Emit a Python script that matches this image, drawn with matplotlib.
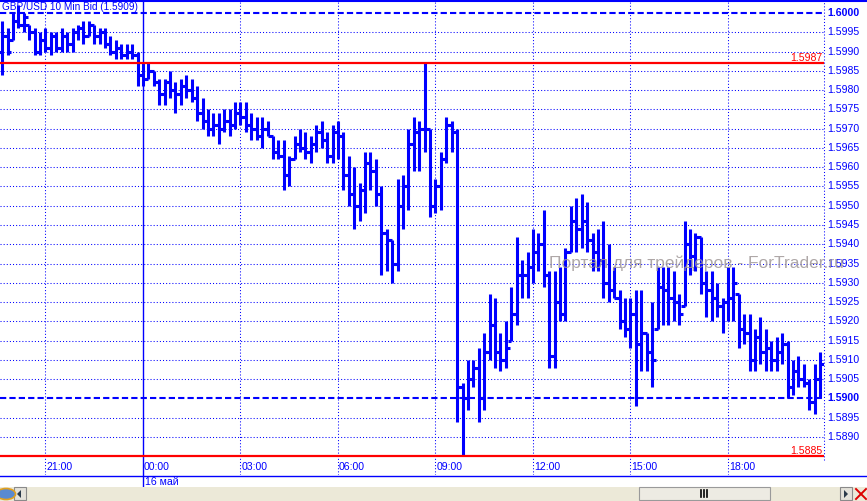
import datetime as dt
import matplotlib
matplotlib.use("Agg")
import matplotlib.pyplot as plt
import matplotlib.dates as mdates
from matplotlib.lines import Line2D
from matplotlib.patches import Rectangle, Polygon, Circle
import pandas as pd

plt.rcParams["font.family"] = ["Liberation Sans", "DejaVu Sans"]

# GBP/USD 10 min bars, 15 May 19:40 .. 16 May 20:50
times = pd.date_range("2012-05-15 19:40", periods=152, freq="10min")

opens = [
    1.5990, 1.5994, 1.5993, 1.5998, 1.5997, 1.5997, 1.5995, 1.5990, 1.5993, 1.5991,
    1.5994, 1.5991, 1.5994, 1.5992, 1.5995, 1.5996, 1.5994, 1.5997, 1.5994, 1.5995,
    1.5992, 1.5990, 1.5991, 1.5989, 1.5990, 1.5989, 1.5984, 1.5983, 1.5985, 1.5982,
    1.5979, 1.5982, 1.5980, 1.5979, 1.5981, 1.5980, 1.5978, 1.5974, 1.5972, 1.5970,
    1.5971, 1.5970, 1.5972, 1.5971, 1.5974, 1.5973, 1.5971, 1.5970, 1.5968, 1.5970,
    1.5968, 1.5964, 1.5963, 1.5958, 1.5962, 1.5966, 1.5965, 1.5964, 1.5966, 1.5969,
    1.5967, 1.5963, 1.5969, 1.5968, 1.5958, 1.5953, 1.5950, 1.5954, 1.5961, 1.5959,
    1.5953, 1.5943, 1.5941, 1.5935, 1.5950, 1.5955, 1.5966, 1.5969, 1.5970, 1.5970,
    1.5950, 1.5955, 1.5962, 1.5971, 1.5969, 1.5903, 1.5900, 1.5905, 1.5908, 1.5900,
    1.5912, 1.5919, 1.5912, 1.5910, 1.5915, 1.5922, 1.5932, 1.5932, 1.5934, 1.5938,
    1.5940, 1.5932, 1.5911, 1.5925, 1.5922, 1.5938, 1.5946, 1.5944, 1.5946, 1.5941,
    1.5938, 1.5936, 1.5930, 1.5928, 1.5926, 1.5920, 1.5918, 1.5922, 1.5914, 1.5917,
    1.5912, 1.5918, 1.5929, 1.5928, 1.5926, 1.5925, 1.5924, 1.5940, 1.5937, 1.5942,
    1.5930, 1.5928, 1.5926, 1.5924, 1.5925, 1.5926, 1.5927, 1.5918, 1.5917, 1.5910,
    1.5916, 1.5912, 1.5913, 1.5910, 1.5912, 1.5914, 1.5903, 1.5907, 1.5905, 1.5904,
    1.5899, 1.5905,
]
highs = [
    1.5998, 1.5996, 1.6000, 1.6002, 1.6000, 1.5997, 1.5996, 1.5995, 1.5996, 1.5995,
    1.5995, 1.5996, 1.5995, 1.5996, 1.5997, 1.5998, 1.5998, 1.5997, 1.5996, 1.5996,
    1.5994, 1.5993, 1.5992, 1.5992, 1.5992, 1.5990, 1.5987, 1.5987, 1.5985, 1.5983,
    1.5983, 1.5985, 1.5982, 1.5983, 1.5984, 1.5983, 1.5981, 1.5978, 1.5975, 1.5974,
    1.5974, 1.5975, 1.5975, 1.5977, 1.5977, 1.5977, 1.5974, 1.5973, 1.5973, 1.5972,
    1.5968, 1.5967, 1.5967, 1.5963, 1.5968, 1.5970, 1.5969, 1.5968, 1.5971, 1.5972,
    1.5969, 1.5971, 1.5972, 1.5969, 1.5963, 1.5960, 1.5956, 1.5964, 1.5964, 1.5962,
    1.5955, 1.5944, 1.5941, 1.5957, 1.5958, 1.5970, 1.5973, 1.5972, 1.5987, 1.5970,
    1.5957, 1.5964, 1.5973, 1.5972, 1.5970, 1.5904, 1.5910, 1.5910, 1.5913, 1.5917,
    1.5927, 1.5926, 1.5917, 1.5920, 1.5929, 1.5942, 1.5936, 1.5938, 1.5944, 1.5943,
    1.5949, 1.5933, 1.5933, 1.5934, 1.5939, 1.5950, 1.5952, 1.5953, 1.5951, 1.5943,
    1.5944, 1.5946, 1.5940, 1.5934, 1.5928, 1.5926, 1.5926, 1.5928, 1.5928, 1.5917,
    1.5925, 1.5934, 1.5934, 1.5934, 1.5933, 1.5927, 1.5946, 1.5944, 1.5943, 1.5942,
    1.5933, 1.5933, 1.5930, 1.5926, 1.5934, 1.5934, 1.5927, 1.5922, 1.5922, 1.5918,
    1.5921, 1.5918, 1.5915, 1.5916, 1.5917, 1.5915, 1.5910, 1.5911, 1.5909, 1.5905,
    1.5909, 1.5912,
]
lows = [
    1.5984, 1.5989, 1.5993, 1.5996, 1.5995, 1.5993, 1.5989, 1.5989, 1.5990, 1.5989,
    1.5990, 1.5990, 1.5990, 1.5990, 1.5993, 1.5992, 1.5994, 1.5992, 1.5992, 1.5991,
    1.5989, 1.5988, 1.5988, 1.5988, 1.5988, 1.5981, 1.5981, 1.5983, 1.5981, 1.5976,
    1.5976, 1.5978, 1.5974, 1.5976, 1.5978, 1.5977, 1.5972, 1.5970, 1.5968, 1.5968,
    1.5966, 1.5969, 1.5968, 1.5970, 1.5971, 1.5969, 1.5967, 1.5967, 1.5965, 1.5968,
    1.5962, 1.5962, 1.5954, 1.5955, 1.5962, 1.5964, 1.5962, 1.5961, 1.5964, 1.5965,
    1.5961, 1.5961, 1.5962, 1.5954, 1.5950, 1.5944, 1.5946, 1.5948, 1.5954, 1.5950,
    1.5932, 1.5933, 1.5930, 1.5933, 1.5944, 1.5949, 1.5959, 1.5959, 1.5964, 1.5947,
    1.5948, 1.5949, 1.5961, 1.5964, 1.5894, 1.5885, 1.5897, 1.5903, 1.5894, 1.5897,
    1.5910, 1.5908, 1.5907, 1.5908, 1.5915, 1.5919, 1.5926, 1.5926, 1.5930, 1.5933,
    1.5929, 1.5908, 1.5908, 1.5920, 1.5920, 1.5938, 1.5938, 1.5939, 1.5938, 1.5933,
    1.5933, 1.5926, 1.5925, 1.5926, 1.5918, 1.5916, 1.5913, 1.5898, 1.5907, 1.5907,
    1.5903, 1.5918, 1.5919, 1.5919, 1.5920, 1.5919, 1.5924, 1.5932, 1.5933, 1.5927,
    1.5921, 1.5920, 1.5921, 1.5917, 1.5920, 1.5920, 1.5913, 1.5914, 1.5907, 1.5907,
    1.5909, 1.5907, 1.5907, 1.5907, 1.5909, 1.5900, 1.5901, 1.5903, 1.5903, 1.5897,
    1.5896, 1.5900,
]
closes = [
    1.5994, 1.5990, 1.5998, 1.5997, 1.5999, 1.5995, 1.5990, 1.5993, 1.5991, 1.5994,
    1.5991, 1.5994, 1.5992, 1.5995, 1.5996, 1.5994, 1.5997, 1.5994, 1.5995, 1.5992,
    1.5990, 1.5991, 1.5989, 1.5990, 1.5989, 1.5984, 1.5983, 1.5985, 1.5982, 1.5979,
    1.5982, 1.5980, 1.5979, 1.5981, 1.5980, 1.5978, 1.5974, 1.5972, 1.5970, 1.5971,
    1.5970, 1.5972, 1.5971, 1.5974, 1.5973, 1.5971, 1.5970, 1.5968, 1.5970, 1.5968,
    1.5964, 1.5963, 1.5958, 1.5962, 1.5966, 1.5965, 1.5964, 1.5966, 1.5969, 1.5967,
    1.5963, 1.5969, 1.5968, 1.5958, 1.5953, 1.5950, 1.5954, 1.5961, 1.5959, 1.5953,
    1.5943, 1.5941, 1.5935, 1.5950, 1.5955, 1.5966, 1.5969, 1.5970, 1.5970, 1.5950,
    1.5955, 1.5962, 1.5971, 1.5969, 1.5903, 1.5900, 1.5905, 1.5908, 1.5900, 1.5912,
    1.5919, 1.5912, 1.5910, 1.5913, 1.5922, 1.5932, 1.5932, 1.5934, 1.5938, 1.5940,
    1.5932, 1.5911, 1.5925, 1.5922, 1.5938, 1.5946, 1.5944, 1.5946, 1.5941, 1.5938,
    1.5936, 1.5930, 1.5928, 1.5926, 1.5920, 1.5918, 1.5922, 1.5914, 1.5917, 1.5912,
    1.5910, 1.5929, 1.5928, 1.5926, 1.5925, 1.5922, 1.5940, 1.5937, 1.5942, 1.5930,
    1.5928, 1.5926, 1.5924, 1.5925, 1.5926, 1.5930, 1.5918, 1.5917, 1.5910, 1.5916,
    1.5912, 1.5913, 1.5910, 1.5912, 1.5914, 1.5903, 1.5907, 1.5905, 1.5904, 1.5899,
    1.5905, 1.5909,
]

price_ticks = [1.5890, 1.5895, 1.5900, 1.5905, 1.5910, 1.5915, 1.5920, 1.5925,
               1.5930, 1.5935, 1.5940, 1.5945, 1.5950, 1.5955, 1.5960, 1.5965,
               1.5970, 1.5975, 1.5980, 1.5985, 1.5990, 1.5995, 1.6000]
bold_levels = [1.6000, 1.5900]
day_high = 1.5987
day_low = 1.5885
time_ticks = ["21:00", "00:00", "03:00", "06:00", "09:00", "12:00", "15:00", "18:00"]
title = "GBP/USD 10 Min Bid (1.5909)"
day_label = "16 май"
watermark = "Портал для трейдеров - ForTrader.ru"

BLUE = "#0000FF"
W, H = 867, 501
FS = 7.6


def fx(px):
    return px / W


def fy(py):
    return 1 - py / H


fig = plt.figure(figsize=(W / 100, H / 100), dpi=100)
fig.patch.set_facecolor("white")
ax = fig.add_axes([0, fy(475), fx(824), 475 / H])
ax.set_facecolor("white")
for s in ax.spines.values():
    s.set_visible(False)
ax.set_xticks([])
ax.set_yticks([])

day0 = dt.datetime(2012, 5, 16)
base = mdates.date2num(day0)
ax.set_xlim(base - 4.4 / 24, base + 20.954 / 24)
ax.set_ylim(1.6000 - 462 / 38540, 1.6000 + 13 / 38540)

dot = (0, (1, 2))
# horizontal grid + price labels
for p in price_ticks:
    if p in bold_levels:
        ax.axhline(p, color=BLUE, lw=1.5, ls=(0, (3, 1.5)), zorder=1)
    else:
        ax.axhline(p, color=BLUE, lw=0.75, ls=dot, zorder=1)
    ax.text(827 / 824, p, f"{p:.4f}", transform=ax.get_yaxis_transform(),
            ha="left", va="center", fontsize=FS, color=BLUE, clip_on=False,
            fontweight="bold" if p in bold_levels else "normal")

# vertical grid + time labels
tick_times = [day0 + dt.timedelta(hours=h) for h in (-3, 0, 3, 6, 9, 12, 15, 18)]
for t, lab in zip(tick_times, time_ticks):
    xt = mdates.date2num(t)
    if lab == "00:00":
        ax.axvline(xt, ymin=-12 / 475, ymax=1, color=BLUE, lw=1.0, clip_on=False, zorder=1)
    else:
        ax.axvline(xt, color=BLUE, lw=0.75, ls=dot, zorder=1)
    ax.text(xt + 0.0012, 8 / 475, lab, transform=ax.get_xaxis_transform(),
            ha="left", va="center", fontsize=FS, color=BLUE)

# right axis dotted line
ax.axvline(ax.get_xlim()[1], ymin=15 / 475, ymax=1, color=BLUE, lw=0.75, ls=dot,
           clip_on=False)

# day high / low
for lvl in (day_high, day_low):
    ax.axhline(lvl, color="#FF0000", lw=1.6, zorder=4)
    ax.text(822 / 824, lvl, f"{lvl:.4f}", transform=ax.get_yaxis_transform(),
            ha="right", va="bottom", fontsize=FS, color="#FF0000", zorder=4)

# OHLC bars
x = mdates.date2num(times.to_pydatetime())
tk = 0.7 / 144
ax.vlines(x, lows, highs, color=BLUE, lw=2.2, zorder=3)
ax.hlines(opens, x - tk, x, color=BLUE, lw=2.2, zorder=3)
ax.hlines(closes, x, x + tk, color=BLUE, lw=2.2, zorder=3)

# title and watermark
fig.text(fx(2), fy(7), title, ha="left", va="center", fontsize=7.2, color=BLUE)
fig.text(fx(549), fy(263), watermark, ha="left", va="center", fontsize=12.5,
         color="#a09898", alpha=0.85, zorder=10)

# frame lines
fig.add_artist(Line2D([0, 1], [fy(1), fy(1)], color=BLUE, lw=1.5))
fig.add_artist(Line2D([0, 1], [fy(475.5), fy(475.5)], color=BLUE, lw=1.0))
fig.text(fx(145), fy(482), day_label, ha="left", va="center", fontsize=FS, color=BLUE)

# scroll bar strip
fig.add_artist(Rectangle((0, 0), 1, fy(487), transform=fig.transFigure,
                         fc="#ECE9D8", ec="none"))
fig.add_artist(Rectangle((fx(639), fy(500)), fx(131), 13 / H, transform=fig.transFigure,
                         fc="#EDEBE3", ec="#9a9a9a", lw=0.8))
for dx in (-3, 0, 3):
    fig.add_artist(Line2D([fx(704 + dx)] * 2, [fy(497), fy(490)], color="black", lw=1.2))
for bx, pts in ((14, [(21, 490), (21, 498), (17, 494)]),
                (840, [(844, 490), (844, 498), (848, 494)])):
    fig.add_artist(Rectangle((fx(bx), fy(500)), fx(12), 13 / H, transform=fig.transFigure,
                             fc="#E4E2DA", ec="#8a8a8a", lw=0.8))
    fig.add_artist(Polygon([(fx(a), fy(b)) for a, b in pts], closed=True,
                           transform=fig.transFigure, fc="#2a3a4a", ec="none"))
fig.add_artist(Line2D([fx(856), fx(866)], [fy(489), fy(499)], color="#DD0000", lw=1.4))
fig.add_artist(Line2D([fx(856), fx(866)], [fy(499), fy(489)], color="#DD0000", lw=1.4))
fig.add_artist(Circle((fx(6), fy(494)), 5.5 / H, transform=fig.transFigure,
                      fc="#5a8ad0", ec="#e0a020", lw=1.2))

fig.savefig("out.png", dpi=100)
